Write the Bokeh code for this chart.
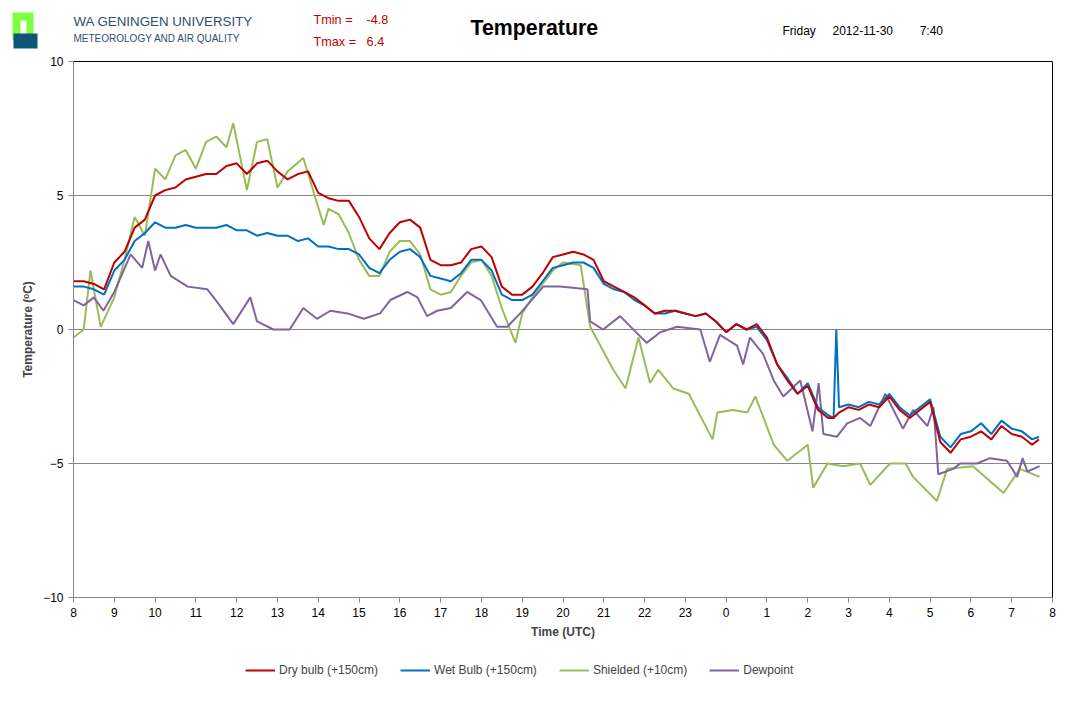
import numpy as np
from bokeh.plotting import figure
from bokeh.layouts import column
from bokeh.models import Legend, LegendItem, FixedTicker, Range1d
from bokeh.core.properties import value
from bokeh.embed import file_html
from bokeh.resources import INLINE

dry_times = ["08:00","08:15","08:30","08:45","09:00","09:15","09:30","09:45","10:00","10:15","10:30","10:45",
             "11:00","11:15","11:30","11:45","12:00","12:15","12:30","12:45","13:00","13:15","13:30","13:45",
             "14:00","14:15","14:30","14:45","15:00","15:15","15:30","15:45","16:00","16:15","16:30","16:45",
             "17:00","17:15","17:30","17:45","18:00","18:15","18:30","18:45","19:00","19:15","19:30","19:45",
             "20:00","20:15","20:30","20:45","21:00","21:15","21:30","21:45","22:00","22:15","22:30","22:45",
             "23:00","23:15","23:30","23:45","00:00","00:15","00:30","00:45","01:00","01:15","01:30","01:45",
             "02:00","02:15","02:30","02:38","02:42","02:46","03:00","03:15","03:30","03:45",
             "04:00","04:15","04:30","04:45","05:00","05:15","05:30","05:45","06:00","06:15","06:30","06:45",
             "07:00","07:15","07:30","07:40"]
dry_bulb = [1.8,1.8,1.7,1.5,2.5,2.9,3.8,4.1,5.0,5.2,5.3,5.6,
            5.7,5.8,5.8,6.1,6.2,5.8,6.2,6.3,5.9,5.6,5.8,5.9,
            5.1,4.9,4.8,4.8,4.2,3.4,3.0,3.6,4.0,4.1,3.8,2.6,
            2.4,2.4,2.5,3.0,3.1,2.7,1.6,1.3,1.3,1.6,2.1,2.7,
            2.8,2.9,2.8,2.6,1.8,1.6,1.4,1.2,0.9,0.6,0.7,0.7,
            0.6,0.5,0.6,0.3,-0.1,0.2,0.0,0.2,-0.3,-1.3,-1.9,-2.4,
            -2.1,-3.0,-3.3,-3.3,-3.2,-3.1,-2.9,-3.0,-2.8,-2.9,
            -2.5,-3.0,-3.3,-3.0,-2.7,-4.2,-4.6,-4.1,-4.0,-3.8,-4.1,-3.6,
            -3.9,-4.0,-4.3,-4.1]
wet_bulb = [1.6,1.6,1.5,1.3,2.2,2.6,3.3,3.6,4.0,3.8,3.8,3.9,
            3.8,3.8,3.8,3.9,3.7,3.7,3.5,3.6,3.5,3.5,3.3,3.4,
            3.1,3.1,3.0,3.0,2.8,2.3,2.1,2.6,2.9,3.0,2.7,2.0,
            1.9,1.8,2.1,2.6,2.6,2.2,1.3,1.1,1.1,1.3,1.8,2.3,
            2.4,2.5,2.5,2.3,1.7,1.5,1.4,1.1,0.9,0.6,0.6,0.7,
            0.6,0.5,0.6,0.3,-0.1,0.2,0.0,0.1,-0.4,-1.3,-1.8,-2.4,
            -2.0,-2.9,-3.2,-3.3,0.0,-2.9,-2.8,-2.9,-2.7,-2.8,
            -2.4,-2.9,-3.2,-2.9,-2.6,-4.0,-4.4,-3.9,-3.8,-3.5,-3.9,-3.4,
            -3.7,-3.8,-4.1,-4.0]

shield_times = ["08:00","08:15","08:25","08:40","09:00","09:15","09:30","09:45","10:00","10:15","10:30","10:45",
                "11:00","11:15","11:30","11:45","11:55","12:15","12:30","12:45","13:00","13:15","13:38","14:08",
                "14:15","14:30","14:45","15:00","15:15","15:30","15:45","16:00","16:15","16:30","16:45","17:00",
                "17:15","17:30","17:45","18:00","18:15","18:30","18:50","19:00","19:15","19:30","19:45","20:00",
                "20:26","20:40","21:14","21:32","21:51","22:08","22:20","22:42","23:05","23:40","23:47","00:10",
                "00:31","00:43","01:10","01:30","02:00","02:08","02:29","02:52","03:17","03:32","04:01","04:24",
                "04:35","05:10","05:25","06:03","06:48","07:12","07:41"]
shielded = [-0.3,0.0,2.2,0.1,1.2,2.6,4.2,3.5,6.0,5.6,6.5,6.7,
            6.0,7.0,7.2,6.8,7.7,5.2,7.0,7.1,5.3,5.9,6.4,3.9,
            4.5,4.3,3.6,2.6,2.0,2.0,2.9,3.3,3.3,2.8,1.5,1.3,
            1.4,2.0,2.5,2.6,2.0,0.8,-0.5,0.6,1.2,1.7,2.2,2.5,
            2.4,0.1,-1.5,-2.2,-0.3,-2.0,-1.5,-2.2,-2.4,-4.1,-3.1,-3.0,
            -3.1,-2.5,-4.3,-4.9,-4.3,-5.9,-5.0,-5.1,-5.0,-5.8,-5.0,-5.0,
            -5.5,-6.4,-5.2,-5.1,-6.1,-5.2,-5.5]

dew_times = ["08:00","08:15","08:30","08:44","09:00","09:24","09:41","09:50","10:00","10:08","10:23","10:48",
             "11:17","11:32","11:55","12:20","12:30","12:54","13:18","13:38","13:58","14:18","14:43","15:07",
             "15:31","15:46","16:11","16:26","16:40","16:55","17:15","17:39","17:59","18:23","18:38","18:57",
             "19:31","19:56","20:36","20:40","20:59","21:24","22:03","22:23","22:48","23:22","23:36","23:51",
             "00:16","00:25","00:35","00:54","01:10","01:24","01:49","02:07","02:16","02:23","02:43","02:58",
             "03:17","03:32","03:54","04:20","04:35","04:56","05:05","05:12","05:34","05:44","06:09","06:28",
             "06:53","07:08","07:16","07:23","07:41"]
dewpoint = [1.1,0.9,1.2,0.7,1.4,2.8,2.3,3.3,2.2,2.8,2.0,1.6,
            1.5,1.0,0.2,1.2,0.3,0.0,0.0,0.8,0.4,0.7,0.6,0.4,
            0.6,1.1,1.4,1.2,0.5,0.7,0.8,1.4,1.1,0.1,0.1,0.6,
            1.6,1.6,1.5,0.3,0.0,0.5,-0.5,-0.1,0.1,0.0,-1.2,-0.2,
            -0.6,-1.3,-0.3,-0.9,-1.9,-2.5,-1.9,-3.8,-2.0,-3.9,-4.0,-3.5,
            -3.3,-3.6,-2.4,-3.7,-3.0,-3.6,-2.9,-5.4,-5.2,-5.0,-5.0,-4.8,
            -4.9,-5.5,-4.8,-5.3,-5.1]

x_labels = ["8","9","10","11","12","13","14","15","16","17","18","19","20","21","22","23",
            "0","1","2","3","4","5","6","7","8"]

series_names = ["Dry bulb (+150cm)", "Wet Bulb (+150cm)", "Shielded (+10cm)", "Dewpoint"]
series_colors = ["#C00000", "#0070C0", "#9BBB59", "#8064A2"]

NB = "\u00a0"
header_texts = ["WA GENINGEN UNIVERSITY", "METEOROLOGY AND AIR QUALITY",
                "Tmin =" + NB * 4 + "-4.8", "Tmax =" + NB * 3 + "6.4", "Temperature",
                "Friday" + NB * 5 + "2012-11-30" + NB * 8 + "7:40"]

def hrs(ts):
    out = []
    for s in ts:
        h, m = map(int, s.split(":"))
        out.append((h - 8) % 24 + m / 60)
    return out

W = 1058
HH = 53
HM = 594
HF = 686 - HH - HM
F = value("Liberation Sans")

def no_align(fig):
    if "frame_align" in fig.properties():
        fig.frame_align = False

# ---------- header ----------
h = figure(width=W, height=HH, output_backend="svg", toolbar_location=None,
           x_axis_location=None, y_axis_location=None,
           x_range=Range1d(0, W), y_range=Range1d(HH, 0), min_border=0)
no_align(h)
h.grid.visible = False
h.outline_line_color = None
h.text([73], [13], text=[header_texts[0]], text_font=F, text_font_size="10pt", text_color="#2E4F6E", text_baseline="top")
h.text([73], [32], text=[header_texts[1]], text_font=F, text_font_size="7.5pt", text_color="#2E4F6E", text_baseline="top")
h.text([313], [12], text=[header_texts[2]], text_font=F, text_font_size="9.5pt", text_color="#C00000", text_baseline="top")
h.text([313], [34], text=[header_texts[3]], text_font=F, text_font_size="9.5pt", text_color="#C00000", text_baseline="top")
h.text([470], [15], text=[header_texts[4]], text_font=F, text_font_size="16pt", text_font_style="bold", text_baseline="top")
h.text([782], [23], text=[header_texts[5]], text_font=F, text_font_size="9pt", text_baseline="top")
h.quad(left=[12], right=[33], top=[12], bottom=[40], fill_color="#7FFF3F", line_color=None)
h.quad(left=[20], right=[26], top=[20], bottom=[40], fill_color="white", line_color=None)
h.quad(left=[13], right=[37], top=[33], bottom=[48], fill_color="#0F5577", line_color=None)

# ---------- main ----------
p = figure(width=W, height=HM, output_backend="svg", toolbar_location=None,
           x_range=Range1d(0, 24), y_range=Range1d(-10, 10),
           min_border_left=73, min_border_right=6, min_border_top=8, min_border_bottom=50)
no_align(p)
p.outline_line_color = "#000000"
p.xgrid.visible = False
p.ygrid.ticker = FixedTicker(ticks=[-5, 0, 5])
p.ygrid.grid_line_color = "#868686"
p.ygrid.grid_line_width = 1.2
p.xaxis.ticker = FixedTicker(ticks=list(range(25)))
p.xaxis.major_label_overrides = {i: l for i, l in enumerate(x_labels)}
p.yaxis.ticker = FixedTicker(ticks=[-10, -5, 0, 5, 10])
for ax in (p.xaxis[0], p.yaxis[0]):
    ax.axis_line_color = "#868686"
    ax.major_tick_line_color = "#868686"
    ax.minor_tick_line_color = None
    ax.major_tick_out = 5
    ax.major_tick_in = 0
    ax.major_label_text_font = "Liberation Sans"
    ax.major_label_text_font_size = "9pt"
    ax.major_label_text_color = "#000000"
    ax.axis_label_text_font = "Liberation Sans"
    ax.axis_label_text_font_style = "bold"
    ax.axis_label_text_font_size = "9pt"
p.xaxis.axis_label = "Time (UTC)"
p.yaxis.axis_label = "Temperature (ᵒC)"

r1 = p.line(hrs(dry_times), dry_bulb, line_color=series_colors[0], line_width=2)
r2 = p.line(hrs(dry_times), wet_bulb, line_color=series_colors[1], line_width=2)
r3 = p.line(hrs(shield_times), shielded, line_color=series_colors[2], line_width=2)
r4 = p.line(hrs(dew_times), dewpoint, line_color=series_colors[3], line_width=2)
p.renderers = [r3, r4, r2, r1]

# ---------- footer legend ----------
f = figure(width=W, height=HF, output_backend="svg", toolbar_location=None,
           x_axis_location=None, y_axis_location=None,
           x_range=Range1d(0, 1), y_range=Range1d(0, 1), min_border=0)
no_align(f)
f.grid.visible = False
f.outline_line_color = None
items = []
for name, col in zip(series_names, series_colors):
    rr = f.line([5, 6], [5, 6], line_color=col, line_width=2)
    items.append(LegendItem(label=name, renderers=[rr]))
leg = Legend(items=items, orientation="horizontal", location=(245, 6), border_line_color=None,
             background_fill_alpha=0, label_text_font="Liberation Sans", label_text_font_size="9pt",
             glyph_width=30, spacing=22, label_standoff=4, margin=0, padding=0)
f.add_layout(leg, "center")

open("out.html", "w").write(file_html(column(h, p, f, spacing=0), INLINE))
